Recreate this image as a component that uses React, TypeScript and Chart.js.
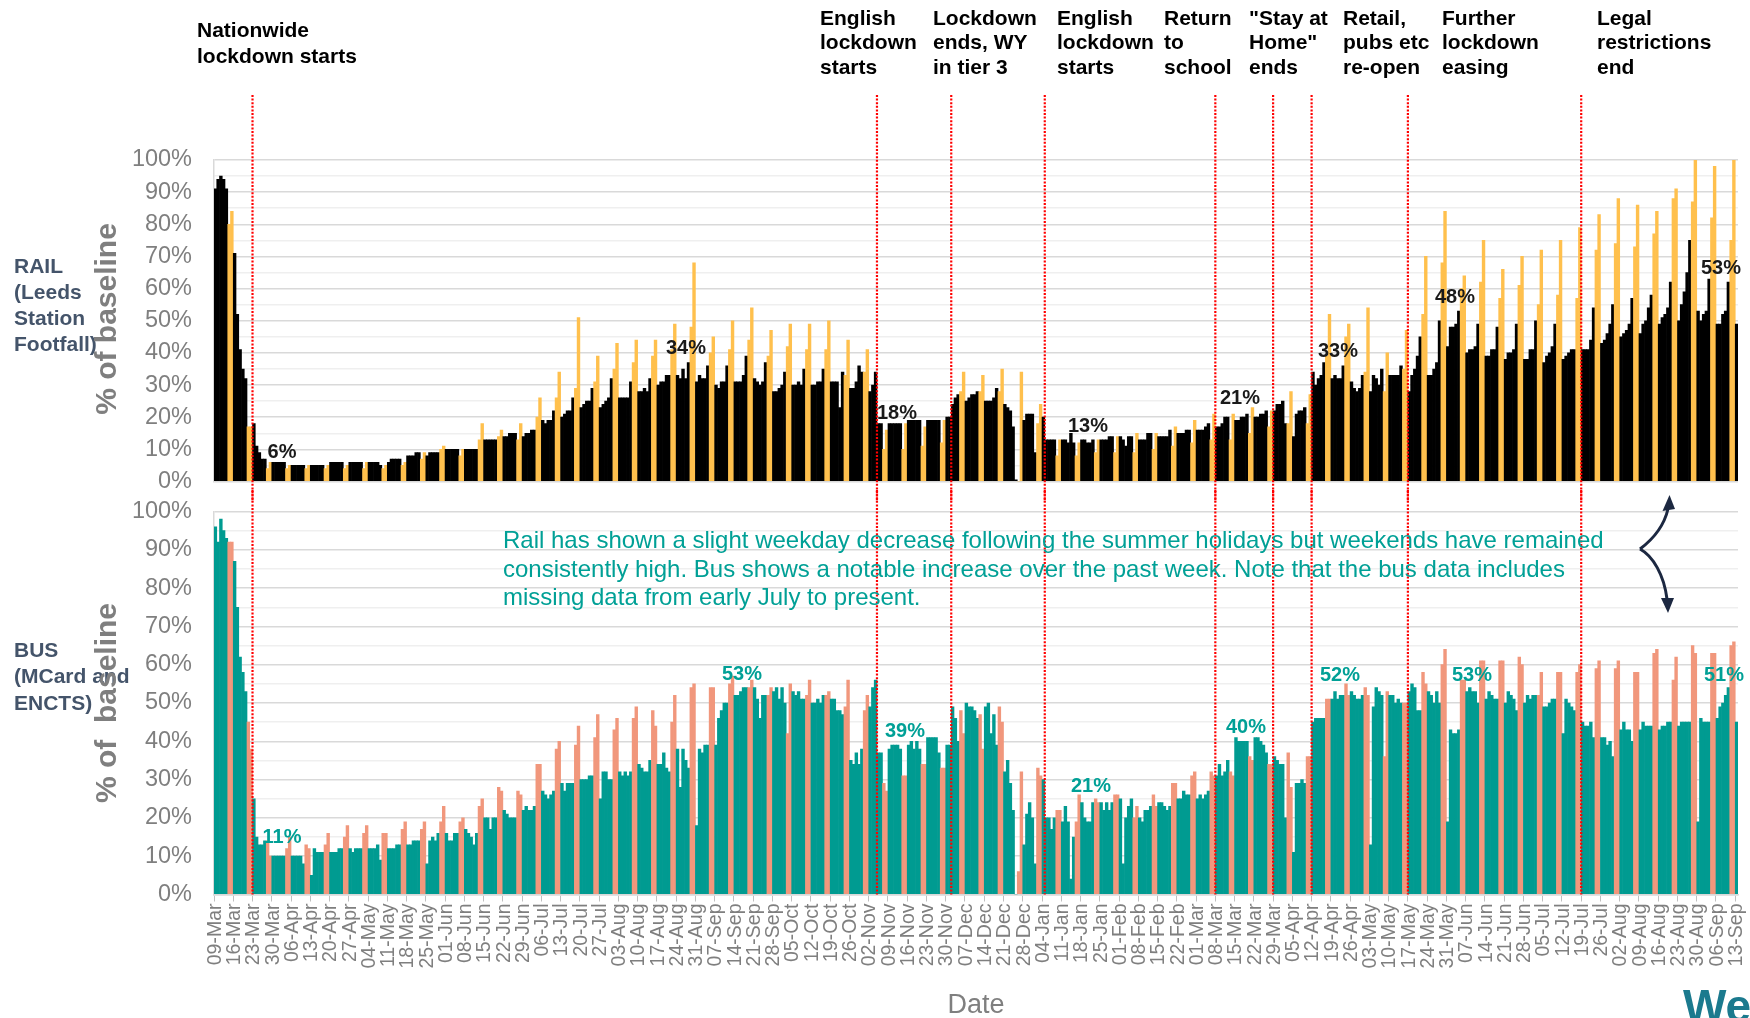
import React, { useEffect, useRef } from 'react';
import { Chart, registerables } from 'chart.js';

Chart.register(...registerables);

// ---------------- DATA ----------------
const weekStartLabels = [
  '09-Mar', '16-Mar', '23-Mar', '30-Mar', '06-Apr', '13-Apr', '20-Apr', '27-Apr', '04-May', '11-May',
  '18-May', '25-May', '01-Jun', '08-Jun', '15-Jun', '22-Jun', '29-Jun', '06-Jul', '13-Jul', '20-Jul',
  '27-Jul', '03-Aug', '10-Aug', '17-Aug', '24-Aug', '31-Aug', '07-Sep', '14-Sep', '21-Sep', '28-Sep',
  '05-Oct', '12-Oct', '19-Oct', '26-Oct', '02-Nov', '09-Nov', '16-Nov', '23-Nov', '30-Nov', '07-Dec',
  '14-Dec', '21-Dec', '28-Dec', '04-Jan', '11-Jan', '18-Jan', '25-Jan', '01-Feb', '08-Feb', '15-Feb',
  '22-Feb', '01-Mar', '08-Mar', '15-Mar', '22-Mar', '29-Mar', '05-Apr', '12-Apr', '19-Apr', '26-Apr',
  '03-May', '10-May', '17-May', '24-May', '31-May', '07-Jun', '14-Jun', '21-Jun', '28-Jun', '05-Jul',
  '12-Jul', '19-Jul', '26-Jul', '02-Aug', '09-Aug', '16-Aug', '23-Aug', '30-Aug', '06-Sep', '13-Sep',
];

// Daily % of baseline, Mon 09-Mar-2020 .. Mon 13-Sep-2021 (one row per week, Mon..Sun)
const railPct = [
  91, 94, 95, 94, 91, 80, 84,
  71, 52, 41, 35, 32, 17, 17,
  18, 11, 9, 7, 7, 4, 6,
  6, 6, 6, 6, 6, 4, 5,
  5, 5, 5, 5, 5, 4, 5,
  5, 5, 5, 5, 5, 4, 5,
  6, 6, 6, 6, 6, 4, 5,
  6, 6, 6, 6, 6, 4, 6,
  6, 6, 6, 6, 5, 4, 5,
  6, 7, 7, 7, 7, 5, 6,
  8, 8, 8, 9, 9, 7, 9,
  8, 9, 9, 9, 9, 10, 11,
  10, 10, 10, 10, 10, 8, 10,
  10, 10, 10, 10, 10, 13, 18,
  13, 13, 13, 13, 13, 14, 16,
  14, 14, 15, 15, 15, 13, 18,
  14, 15, 15, 16, 16, 20, 26,
  19, 18, 19, 19, 22, 26, 34,
  20, 21, 22, 22, 26, 29, 51,
  23, 24, 25, 25, 29, 31, 39,
  23, 24, 25, 26, 32, 35, 43,
  26, 26, 26, 26, 31, 37, 44,
  28, 28, 29, 28, 32, 39, 44,
  30, 31, 31, 33, 33, 41, 49,
  33, 32, 35, 32, 37, 48, 68,
  31, 33, 32, 32, 36, 40, 45,
  30, 29, 31, 31, 36, 41, 50,
  31, 31, 31, 33, 39, 44, 54,
  32, 31, 30, 31, 37, 39, 47,
  28, 28, 29, 30, 34, 42, 49,
  30, 30, 31, 30, 35, 41, 49,
  30, 30, 31, 31, 35, 41, 50,
  31, 31, 31, 23, 34, 33, 44,
  29, 29, 31, 36, 34, 34, 41,
  28, 30, 34, 18, 18, 10, 16,
  18, 18, 18, 18, 18, 10, 18,
  19, 19, 19, 19, 19, 11, 17,
  19, 19, 19, 19, 19, 12, 19,
  20, 20, 24, 26, 27, 28, 34,
  25, 26, 27, 27, 28, 28, 33,
  25, 25, 25, 26, 29, 28, 35,
  24, 23, 22, 17, 0.5, 0, 34,
  19, 21, 21, 21, 9, 18, 24,
  20, 13, 13, 13, 13, 8, 13,
  13, 13, 12, 15, 12, 8, 12,
  13, 13, 12, 12, 13, 9, 13,
  13, 13, 13, 14, 14, 9, 14,
  14, 13, 11, 14, 14, 9, 15,
  13, 13, 13, 15, 15, 10, 15,
  14, 14, 14, 14, 16, 11, 17,
  15, 15, 15, 16, 16, 12, 19,
  16, 16, 16, 17, 18, 13, 21,
  17, 17, 18, 20, 20, 13, 21,
  19, 19, 20, 20, 21, 15, 23,
  20, 20, 21, 21, 22, 17, 22,
  22, 24, 24, 25, 18, 18, 28,
  14, 21, 22, 22, 23, 18, 27,
  34, 30, 32, 33, 37, 39, 52,
  32, 33, 32, 32, 36, 45, 49,
  31, 29, 28, 29, 33, 34, 54,
  28, 33, 32, 30, 35, 28, 40,
  33, 33, 33, 33, 36, 35, 47,
  28, 33, 35, 39, 45, 52, 70,
  33, 33, 35, 37, 50, 68, 84,
  42, 48, 48, 49, 53, 60, 64,
  40, 41, 41, 42, 49, 62, 75,
  39, 39, 41, 41, 48, 57, 66,
  38, 40, 40, 41, 49, 61, 70,
  38, 38, 41, 41, 50, 55, 72,
  37, 39, 40, 42, 49, 58, 75,
  38, 39, 40, 41, 41, 57, 79,
  41, 41, 41, 44, 54, 72, 83,
  43, 44, 46, 49, 55, 74, 88,
  45, 46, 47, 49, 57, 73, 86,
  46, 49, 50, 54, 58, 77, 84,
  49, 51, 52, 54, 62, 88, 91,
  50, 55, 59, 65, 75, 87, 100,
  53, 50, 52, 53, 63, 82, 98,
  49, 49, 52, 53, 62, 75, 100,
  49,
];

const busPct = [
  96, 92, 98, 95, 93, 92, 92,
  87, 75, 62, 58, 53, 45, 38,
  25, 15, 13, 13, 14, 14, 10,
  10, 10, 10, 10, 10, 12, 15,
  10, 10, 10, 10, 8, 13, 12,
  5, 12, 11, 11, 11, 13, 16,
  11, 11, 11, 12, 12, 15, 18,
  12, 11, 12, 12, 12, 16, 18,
  12, 12, 12, 13, 9, 16, 16,
  12, 12, 12, 13, 13, 17, 19,
  13, 13, 14, 14, 14, 17, 19,
  8, 14, 15, 14, 16, 19, 23,
  16, 14, 14, 16, 16, 19, 20,
  17, 16, 15, 13, 16, 23, 25,
  20, 20, 17, 20, 20, 28, 27,
  22, 21, 20, 20, 20, 27, 26,
  22, 23, 22, 22, 23, 34, 34,
  27, 26, 25, 26, 27, 38, 40,
  29, 27, 29, 29, 29, 39, 44,
  30, 30, 30, 31, 31, 41, 47,
  25, 32, 32, 30, 30, 43, 46,
  32, 31, 32, 31, 32, 46, 49,
  34, 33, 32, 32, 35, 48, 44,
  34, 34, 37, 33, 32, 45, 52,
  38, 28, 38, 35, 33, 54, 55,
  18, 38, 37, 39, 39, 54, 54,
  39, 46, 48, 50, 50, 55, 57,
  52, 52, 53, 54, 54, 54, 56,
  54, 51, 46, 52, 52, 52, 54,
  53, 54, 51, 54, 50, 42, 55,
  53, 52, 53, 51, 51, 52, 56,
  50, 50, 51, 50, 52, 52, 53,
  51, 51, 48, 48, 47, 49, 56,
  35, 34, 37, 34, 38, 48, 52,
  49, 54, 56, 37, 37, 29, 27,
  38, 39, 39, 39, 38, 31, 31,
  39, 40, 38, 40, 38, 34, 34,
  41, 41, 41, 41, 37, 33, 33,
  39, 39, 49, 46, 40, 48, 42,
  50, 49, 49, 48, 46, 47, 38,
  49, 50, 42, 47, 39, 49, 45,
  32, 35, 29, 22, 0, 6, 32,
  13, 21, 24, 20, 8, 33, 31,
  30, 20, 20, 17, 20, 22, 22,
  19, 23, 19, 4, 15, 19, 26,
  24, 20, 19, 19, 24, 25, 24,
  24, 22, 24, 22, 24, 26, 26,
  25, 8, 20, 23, 25, 20, 23,
  20, 19, 22, 22, 23, 26, 23,
  24, 24, 23, 22, 23, 29, 29,
  25, 25, 27, 26, 26, 31, 32,
  25, 26, 25, 26, 27, 32, 31,
  31, 34, 31, 32, 35, 32, 31,
  41, 40, 40, 40, 40, 36, 35,
  41, 41, 40, 39, 37, 34, 34,
  36, 35, 34, 34, 20, 37, 28,
  11, 29, 29, 30, 29, 36, 36,
  45, 46, 46, 46, 46, 51, 51,
  51, 53, 51, 52, 52, 55, 52,
  53, 52, 51, 51, 52, 54, 52,
  13, 49, 54, 53, 52, 36, 53,
  52, 52, 50, 51, 50, 50, 50,
  53, 55, 54, 48, 48, 58, 55,
  53, 52, 50, 53, 50, 60, 64,
  19, 43, 42, 42, 43, 56, 56,
  53, 54, 53, 53, 50, 61, 61,
  51, 53, 52, 51, 51, 61, 61,
  50, 53, 52, 51, 48, 62, 60,
  50, 52, 51, 52, 52, 52, 58,
  49, 49, 50, 51, 51, 58, 58,
  42, 51, 50, 49, 48, 58, 60,
  45, 44, 44, 45, 41, 59, 61,
  41, 41, 39, 40, 36, 59, 61,
  43, 45, 43, 43, 40, 58, 58,
  43, 45, 44, 44, 44, 63, 64,
  43, 44, 44, 45, 45, 56, 62,
  44, 45, 45, 45, 45, 65, 63,
  19, 46, 45, 45, 45, 63, 63,
  46, 49, 50, 52, 54, 65, 66,
  45,
];

const eventDates = [
  '2020-03-23', '2020-11-05', '2020-12-02', '2021-01-05', '2021-03-08',
  '2021-03-29', '2021-04-12', '2021-05-17', '2021-07-19',
];
const eventTitles = [
  ['Nationwide', 'lockdown starts'],
  ['English', 'lockdown', 'starts'],
  ['Lockdown', 'ends, WY', 'in tier 3'],
  ['English', 'lockdown', 'starts'],
  ['Return', 'to', 'school'],
  ['"Stay at', 'Home"', 'ends'],
  ['Retail,', 'pubs etc', 're-open'],
  ['Further', 'lockdown', 'easing'],
  ['Legal', 'restrictions', 'end'],
];
const railCalloutTexts = ['6%', '34%', '18%', '13%', '21%', '33%', '48%', '53%'];
const busCalloutTexts = ['11%', '53%', '39%', '21%', '40%', '52%', '53%', '51%'];
const noteText = [
  'Rail has shown a slight weekday decrease following the summer holidays but weekends have remained',
  'consistently high. Bus shows a notable increase over the past week. Note that the bus data includes',
  'missing data from early July to present.',
];

// ---------------- LAYOUT / STYLE ----------------
const FONT = '"Liberation Sans", Arial, Helvetica, sans-serif';
const GREY = '#7F7F7F';
const TEAL = '#009B91';
const TEAL_TEXT = '#00A096';
const PLOT_LEFT = 214;
const PLOT_RIGHT = 1738;
const RAIL_CANVAS_H = 502;
const BUS_CANVAS_TOP = 490;
const BUS_CANVAS_H = 1018 - BUS_CANVAS_TOP;

const eventLabelPos = [
  { x: 197, y: 17, lh: 25.5 },
  { x: 820, y: 5.5, lh: 24.5 },
  { x: 933, y: 5.5, lh: 24.5 },
  { x: 1057, y: 5.5, lh: 24.5 },
  { x: 1164, y: 5.5, lh: 24.5 },
  { x: 1249, y: 5.5, lh: 24.5 },
  { x: 1343, y: 5.5, lh: 24.5 },
  { x: 1442, y: 5.5, lh: 24.5 },
  { x: 1597, y: 5.5, lh: 24.5 },
];
const railCalloutPos = [
  [282, 451], [686, 347], [897, 412], [1088, 425], [1240, 397], [1338, 350], [1455, 296], [1721, 267],
];
const busCalloutPos = [
  [282, 836], [742, 673], [905, 730], [1091, 785], [1246, 726], [1340, 674], [1472, 674], [1724, 674],
];

const DAY0 = Date.UTC(2020, 2, 9);
const dayIndex = (iso: string) => {
  const [y, m, d] = iso.split('-').map(Number);
  return Math.round((Date.UTC(y, m - 1, d) - DAY0) / 86400000);
};

const N = railPct.length;
const dayLabels = Array.from({ length: N }, (_, i) => (i % 7 === 0 ? weekStartLabels[i / 7] : ''));

type BuildOpts = {
  values: number[];
  weekday: string;
  weekend: string;
  plotTop: number;
  plotBottom: number;
  canvasHeight: number;
  showX: boolean;
  lineFrom: number;
  lineToBottomOfArea: boolean;
};

function buildChart(canvas: HTMLCanvasElement, o: BuildOpts) {
  const eventIdx = eventDates.map(dayIndex);
  const eventPlugin = {
    id: 'eventLines',
    afterDatasetsDraw(chart: any) {
      const xs = chart.scales.x;
      const half = (xs.getPixelForValue(1) - xs.getPixelForValue(0)) / 2;
      const c = chart.ctx;
      const yEnd = o.lineToBottomOfArea ? chart.chartArea.bottom : chart.height;
      c.save();
      c.strokeStyle = '#FF0000';
      c.lineWidth = 2.2;
      c.setLineDash([2, 1.6]);
      eventIdx.forEach((k) => {
        const px = xs.getPixelForValue(k) - half;
        c.beginPath();
        c.moveTo(px, o.lineFrom);
        c.lineTo(px, yEnd);
        c.stroke();
      });
      c.restore();
    },
  };

  const colors = o.values.map((_, i) => (i % 7 >= 5 ? o.weekend : o.weekday));

  const xScale: any = {
    type: 'category',
    offset: true,
    display: o.showX,
    grid: {
      offset: true,
      drawOnChartArea: false,
      drawTicks: true,
      tickLength: 7,
      lineWidth: 1,
      color: (ctx: any) => (ctx.index !== undefined && ctx.index % 7 === 0 ? '#BFBFBF' : 'rgba(0,0,0,0)'),
    },
    border: { display: true, color: '#D9D9D9', width: 1.5 },
    ticks: {
      autoSkip: false,
      minRotation: 90,
      maxRotation: 90,
      padding: 2,
      color: GREY,
      font: { family: FONT, size: 19.5 },
    },
    afterFit: (s: any) => {
      if (o.showX) s.height = o.canvasHeight - o.plotBottom;
      s.paddingLeft = 0;
      s.paddingRight = 0;
    },
  };

  return new Chart(canvas, {
    type: 'bar',
    data: {
      labels: dayLabels,
      datasets: [
        {
          data: o.values,
          backgroundColor: colors,
          borderWidth: 0,
          barPercentage: 1,
          categoryPercentage: 1,
        },
      ],
    },
    options: {
      animation: false,
      responsive: false,
      devicePixelRatio: 1,
      events: [],
      layout: {
        padding: {
          left: 0,
          right: 1750 - PLOT_RIGHT,
          top: o.plotTop,
          bottom: o.showX ? 0 : o.canvasHeight - o.plotBottom,
        },
      },
      plugins: {
        legend: { display: false },
        tooltip: { enabled: false },
      },
      scales: {
        x: xScale,
        y: {
          min: 0,
          max: 100,
          border: { display: true, color: '#D9D9D9', width: 1.5 },
          grid: {
            drawTicks: true,
            tickLength: 20,
            tickColor: 'rgba(0,0,0,0)',
            lineWidth: 1.5,
            color: (ctx: any) => (ctx.tick && ctx.tick.value % 10 === 0 ? '#D9D9D9' : '#EFEFEF'),
          },
          ticks: {
            stepSize: 5,
            autoSkip: false,
            padding: 2,
            color: GREY,
            font: { family: FONT, size: 23.5 },
            callback: (v: any) => (Number(v) % 10 === 0 ? v + '%' : ''),
          },
          afterFit: (s: any) => {
            s.width = PLOT_LEFT;
          },
        },
      },
    } as any,
    plugins: [eventPlugin],
  } as any);
}

const abs = (extra: React.CSSProperties): React.CSSProperties => ({
  position: 'absolute',
  fontFamily: FONT,
  margin: 0,
  whiteSpace: 'pre',
  ...extra,
});

export default function App() {
  const railRef = useRef<HTMLCanvasElement>(null);
  const busRef = useRef<HTMLCanvasElement>(null);

  useEffect(() => {
    const rail = buildChart(railRef.current as HTMLCanvasElement, {
      values: railPct,
      weekday: '#000000',
      weekend: '#FFC04D',
      plotTop: 160,
      plotBottom: 481.5,
      canvasHeight: RAIL_CANVAS_H,
      showX: false,
      lineFrom: 95,
      lineToBottomOfArea: false,
    });
    const bus = buildChart(busRef.current as HTMLCanvasElement, {
      values: busPct,
      weekday: TEAL,
      weekend: '#F1977C',
      plotTop: 511.5 - BUS_CANVAS_TOP,
      plotBottom: 894.5 - BUS_CANVAS_TOP,
      canvasHeight: BUS_CANVAS_H,
      showX: true,
      lineFrom: 0,
      lineToBottomOfArea: true,
    });
    return () => {
      rail.destroy();
      bus.destroy();
    };
  }, []);

  return (
    <div style={{ position: 'absolute', left: 0, top: 0, width: 1750, height: 1018, overflow: 'hidden', background: '#FFFFFF' }}>
      <canvas ref={busRef} width={1750} height={BUS_CANVAS_H} style={{ position: 'absolute', left: 0, top: BUS_CANVAS_TOP }} />
      <canvas ref={railRef} width={1750} height={RAIL_CANVAS_H} style={{ position: 'absolute', left: 0, top: 0 }} />

      {/* event titles */}
      {eventTitles.map((lines, k) => (
        <div
          key={'ev' + k}
          style={abs({
            left: eventLabelPos[k].x,
            top: eventLabelPos[k].y,
            fontSize: 21,
            fontWeight: 'bold',
            lineHeight: eventLabelPos[k].lh + 'px',
            color: '#000000',
          })}
        >
          {lines.join('\n')}
        </div>
      ))}

      {/* panel labels */}
      <div style={abs({ left: 14, top: 252.6, fontSize: 21, fontWeight: 'bold', lineHeight: '26px', color: '#44546A' })}>
        {'RAIL\n(Leeds\nStation\nFootfall)'}
      </div>
      <div style={abs({ left: 14, top: 636.5, fontSize: 21, fontWeight: 'bold', lineHeight: '26.7px', color: '#44546A' })}>
        {'BUS\n(MCard and\nENCTS)'}
      </div>

      {/* y axis titles */}
      <div
        style={abs({
          left: 106 - 150,
          top: 319 - 18,
          width: 300,
          height: 36,
          lineHeight: '36px',
          textAlign: 'center',
          fontSize: 30,
          fontWeight: 'bold',
          color: GREY,
          transform: 'rotate(-90deg)',
        })}
      >
        % of baseline
      </div>
      <div
        style={abs({
          left: 106 - 150,
          top: 703 - 18,
          width: 300,
          height: 36,
          lineHeight: '36px',
          textAlign: 'center',
          fontSize: 30,
          fontWeight: 'bold',
          color: GREY,
          transform: 'rotate(-90deg)',
        })}
      >
        {'% of  baseline'}
      </div>

      {/* callouts */}
      {railCalloutTexts.map((t, k) => (
        <div
          key={'rc' + k}
          style={abs({
            left: railCalloutPos[k][0] - 50,
            top: railCalloutPos[k][1] - 12,
            width: 100,
            textAlign: 'center',
            fontSize: 20,
            lineHeight: '24px',
            fontWeight: 'bold',
            color: '#1A1A1A',
          })}
        >
          {t}
        </div>
      ))}
      {busCalloutTexts.map((t, k) => (
        <div
          key={'bc' + k}
          style={abs({
            left: busCalloutPos[k][0] - 50,
            top: busCalloutPos[k][1] - 12,
            width: 100,
            textAlign: 'center',
            fontSize: 20,
            lineHeight: '24px',
            fontWeight: 'bold',
            color: TEAL_TEXT,
          })}
        >
          {t}
        </div>
      ))}

      {/* note */}
      <div style={abs({ left: 503, top: 526, fontSize: 24, lineHeight: '28.5px', color: TEAL_TEXT })}>
        {noteText.join('\n')}
      </div>

      {/* x axis title */}
      <div style={abs({ left: 876, top: 988, width: 200, textAlign: 'center', fontSize: 27, lineHeight: '32px', color: GREY })}>
        Date
      </div>

      {/* logo fragment */}
      <div style={abs({ left: 1683, top: 980, fontSize: 46, fontWeight: 'bold', lineHeight: '52px', color: '#1B7A8E' })}>
        We
      </div>

      {/* brace arrow */}
      <svg width={1750} height={1018} style={{ position: 'absolute', left: 0, top: 0, pointerEvents: 'none' }}>
        <path d="M1640 549 C1652 540, 1664 526, 1668 509" stroke="#1C2841" strokeWidth={3} fill="none" />
        <path d="M1640 549 C1653 556, 1664 575, 1667 599" stroke="#1C2841" strokeWidth={3} fill="none" />
        <polygon points="1662.5,511 1675,509 1669.5,495" fill="#1C2841" />
        <polygon points="1661,598 1674,598 1668,613" fill="#1C2841" />
      </svg>
    </div>
  );
}
